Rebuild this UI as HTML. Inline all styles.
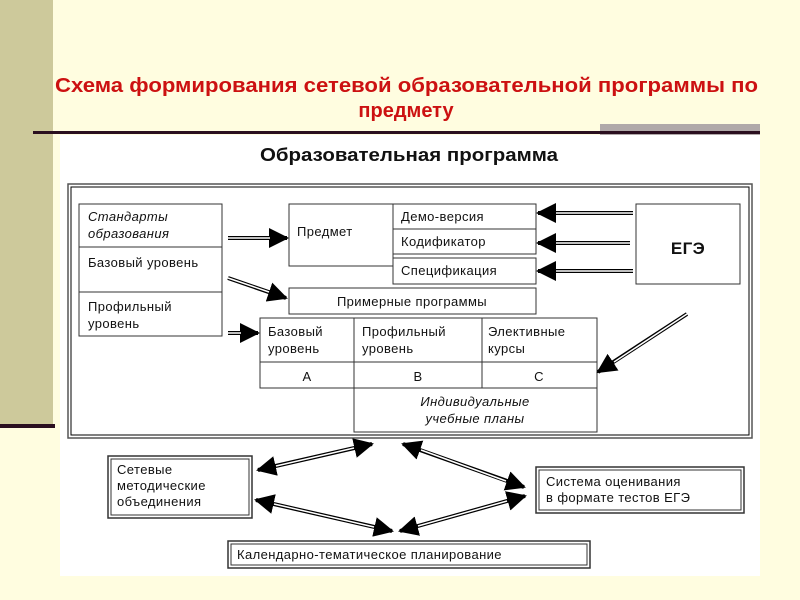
<!DOCTYPE html>
<html><head><meta charset="utf-8"><style>
html,body{margin:0;padding:0;}
body{width:800px;height:600px;background:#fffde0;position:relative;overflow:hidden;font-family:"Liberation Sans",sans-serif;}
</style></head><body>
<svg width="800" height="600" viewBox="0 0 800 600" xmlns="http://www.w3.org/2000/svg" style="position:absolute;left:0;top:0" font-family="Liberation Sans, sans-serif">
<defs>
<marker id="h" viewBox="0 0 10 10" refX="9" refY="5" markerWidth="20" markerHeight="20" markerUnits="userSpaceOnUse" orient="auto-start-reverse"><path d="M0,0 L10,5 L0,10 z" fill="#000"/></marker>
</defs>
<rect x="0" y="0" width="53" height="425" fill="#cdc99b"/>
<rect x="0" y="424" width="55" height="4" fill="#2a0f1f"/>
<rect x="600" y="124" width="160" height="11" fill="#b0a9a9"/>
<rect x="60" y="135" width="700" height="441" fill="#fff"/>
<rect x="33" y="131" width="727" height="3" fill="#2a0f1f"/>
<text x="55" y="92" font-size="20" font-weight="bold" fill="#cc1111" textLength="703" lengthAdjust="spacingAndGlyphs">Схема формирования сетевой образовательной программы по</text>
<text x="406" y="117" text-anchor="middle" font-size="20" font-weight="bold" fill="#cc1111">предмету</text>
<text x="260" y="161" font-size="18" font-weight="bold" fill="#111" textLength="298" lengthAdjust="spacingAndGlyphs">Образовательная программа</text>
<g fill="none" stroke="#555">
<rect x="68" y="184" width="684" height="254" stroke-width="1.5"/>
<rect x="71" y="187" width="678" height="248" stroke="#000"/>
</g>
<g fill="#fff" stroke="#333" stroke-width="1">
<rect x="79" y="204" width="143" height="43"/><rect x="79" y="247" width="143" height="45"/><rect x="79" y="292" width="143" height="44"/>
<rect x="289" y="204" width="104" height="62"/>
<rect x="393" y="204" width="143" height="25"/><rect x="393" y="229" width="143" height="25"/><rect x="393" y="258" width="143" height="26"/>
<rect x="636" y="204" width="104" height="80"/>
<rect x="289" y="288" width="247" height="26"/>
<rect x="260" y="318" width="94" height="44"/><rect x="354" y="318" width="128" height="44"/><rect x="482" y="318" width="115" height="44"/>
<rect x="260" y="362" width="94" height="26"/><rect x="354" y="362" width="128" height="26"/><rect x="482" y="362" width="115" height="26"/>
<rect x="354" y="388" width="243" height="44"/>
<rect x="108" y="456" width="144" height="62" stroke-width="1.5"/><rect x="111" y="459" width="138" height="56"/>
<rect x="536" y="467" width="208" height="46" stroke-width="1.5"/><rect x="539" y="470" width="202" height="40"/>
<rect x="228" y="541" width="362" height="27" stroke-width="1.5"/><rect x="231" y="544" width="356" height="21"/>
</g>
<g font-size="13" fill="#111" letter-spacing="0.4">
<text x="88" y="221" font-style="italic">Стандарты</text><text x="88" y="238" font-style="italic">образования</text>
<text x="88" y="267">Базовый уровень</text>
<text x="88" y="311">Профильный</text><text x="88" y="328">уровень</text>
<text x="297" y="236">Предмет</text>
<text x="401" y="221">Демо-версия</text><text x="401" y="246">Кодификатор</text><text x="401" y="275">Спецификация</text>
<text x="688" y="254" text-anchor="middle" font-size="17" font-weight="bold">ЕГЭ</text>
<text x="412" y="306" text-anchor="middle">Примерные программы</text>
<text x="268" y="336">Базовый</text><text x="268" y="353">уровень</text>
<text x="362" y="336">Профильный</text><text x="362" y="353">уровень</text>
<text x="488" y="336">Элективные</text><text x="488" y="353">курсы</text>
<text x="307" y="381" text-anchor="middle">А</text><text x="418" y="381" text-anchor="middle">В</text><text x="539" y="381" text-anchor="middle">С</text>
<text x="475" y="406" text-anchor="middle" font-style="italic">Индивидуальные</text><text x="475" y="423" text-anchor="middle" font-style="italic">учебные планы</text>
<text x="117" y="474">Сетевые</text><text x="117" y="490">методические</text><text x="117" y="506">объединения</text>
<text x="546" y="486">Система оценивания</text><text x="546" y="502">в формате тестов ЕГЭ</text>
<text x="237" y="559">Календарно-тематическое планирование</text>
</g>
<g stroke="#000" stroke-width="4" fill="none">
<line x1="228" y1="238" x2="287" y2="238" marker-end="url(#h)"/>
<line x1="633" y1="213" x2="538" y2="213" marker-end="url(#h)"/>
<line x1="630" y1="243" x2="538" y2="243" marker-end="url(#h)"/>
<line x1="633" y1="271" x2="538" y2="271" marker-end="url(#h)"/>
<line x1="228" y1="278" x2="286" y2="298" marker-end="url(#h)"/>
<line x1="228" y1="333" x2="258" y2="333" marker-end="url(#h)"/>
<line x1="687" y1="314" x2="598" y2="372" marker-end="url(#h)"/>
<line x1="258" y1="470" x2="372" y2="444" marker-start="url(#h)" marker-end="url(#h)"/>
<line x1="403" y1="444" x2="524" y2="487" marker-start="url(#h)" marker-end="url(#h)"/>
<line x1="256" y1="500" x2="392" y2="531" marker-start="url(#h)" marker-end="url(#h)"/>
<line x1="400" y1="531" x2="525" y2="496" marker-start="url(#h)" marker-end="url(#h)"/>
</g>
<g stroke="#fff" stroke-width="1.5" fill="none">
<line x1="228" y1="238" x2="270" y2="238"/>
<line x1="633" y1="213" x2="556" y2="213"/>
<line x1="630" y1="243" x2="556" y2="243"/>
<line x1="633" y1="271" x2="556" y2="271"/>
<line x1="228" y1="278" x2="269" y2="292"/>
<line x1="228" y1="333" x2="241" y2="333"/>
<line x1="687" y1="314" x2="614" y2="362"/>
<line x1="276" y1="466" x2="354" y2="448"/>
<line x1="421" y1="450" x2="506" y2="481"/>
<line x1="274" y1="504" x2="374" y2="527"/>
<line x1="418" y1="526" x2="507" y2="501"/>
</g>
</svg>
</body></html>
